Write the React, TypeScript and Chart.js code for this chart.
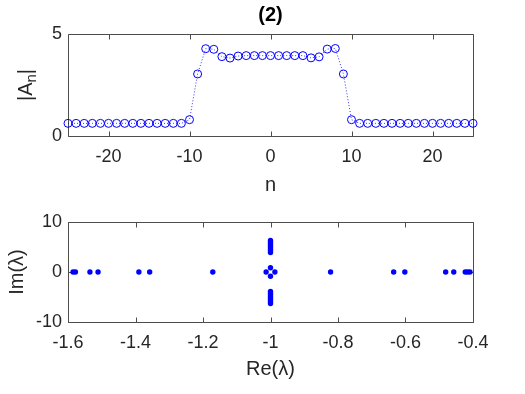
import React, { useEffect, useRef } from "react";
import { Chart, registerables } from "chart.js";

Chart.register(...registerables);

// ---------- data ----------
const nValues = [
  -25, -24, -23, -22, -21, -20, -19, -18, -17, -16, -15, -14, -13, -12, -11,
  -10, -9, -8, -7, -6, -5, -4, -3, -2, -1, 0, 1, 2, 3, 4, 5, 6, 7, 8, 9, 10,
  11, 12, 13, 14, 15, 16, 17, 18, 19, 20, 21, 22, 23, 24, 25,
];
const amplitude = [
  0.62, 0.62, 0.62, 0.62, 0.62, 0.62, 0.62, 0.62, 0.62, 0.62, 0.62, 0.62, 0.62, 0.62, 0.62,
  0.8, 3.04, 4.28, 4.25, 3.89, 3.82, 3.92, 3.94, 3.94, 3.94, 3.94, 3.94, 3.94, 3.94, 3.94,
  3.83, 3.88, 4.26, 4.29, 3.04, 0.8,
  0.62, 0.62, 0.62, 0.62, 0.62, 0.62, 0.62, 0.62, 0.62, 0.62, 0.62, 0.62, 0.62, 0.62, 0.62,
];
const topXTicks = [-20, -10, 0, 10, 20];
const topXTickLabels = ["-20", "-10", "0", "10", "20"];
const topYTicks = [0, 5];
const topYTickLabels = ["0", "5"];

// eigenvalues on the real axis
const eigReal = [
  -1.585, -1.578, -1.535, -1.511, -1.39, -1.358, -1.171, -0.822, -0.635, -0.602,
  -0.481, -0.457, -0.423, -0.416, -0.409, -1.013, -0.987,
];
const eigRealIm = [0, 0, 0, 0, 0, 0, 0, 0, 0, 0, 0, 0, 0, 0, 0, 0, 0];
// eigenvalues on the line Re = -1
const eigColRe = [
  -1, -1, -1, -1, -1, -1, -1, -1, -1, -1, -1, -1, -1, -1, -1, -1, -1, -1, -1, -1,
];
const eigColIm = [
  0.85, 3.9, 4.2, 4.5, 4.8, 5.1, 5.4, 5.7, 6.0, 6.3,
  -0.85, -3.9, -4.2, -4.5, -4.8, -5.1, -5.4, -5.7, -6.0, -6.3,
];
const botXTicks = [-1.6, -1.4, -1.2, -1, -0.8, -0.6, -0.4];
const botXTickLabels = ["-1.6", "-1.4", "-1.2", "-1", "-0.8", "-0.6", "-0.4"];
const botYTicks = [-10, 0, 10];
const botYTickLabels = ["-10", "0", "10"];

const topTitle = "(2)";
const topXTitle = "n";
const topYTitleMain = "A";
const topYTitleSub = "n";
const botXTitle = "Re(λ)";
const botYTitle = "Im(λ)";

// ---------- styles ----------
const FONT = "'Liberation Sans', Arial, Helvetica, sans-serif";
const TEXT = "#262626";
const AXIS = "#4d4d4d";
const BLUE = "#0000ff";

const framePlugin = {
  id: "frame",
  beforeDatasetsDraw(chart: any) {
    const { ctx, chartArea: a, scales } = chart;
    const L = Math.round(a.left) + 0.5;
    const R = Math.round(a.right) + 0.5;
    const T = Math.round(a.top) + 0.5;
    const B = Math.round(a.bottom) + 0.5;
    const tl = 5;
    ctx.save();
    ctx.strokeStyle = AXIS;
    ctx.lineWidth = 1;
    ctx.beginPath();
    ctx.rect(L, T, R - L, B - T);
    scales.x.ticks.forEach((t: any) => {
      const x = Math.round(scales.x.getPixelForValue(t.value)) + 0.5;
      ctx.moveTo(x, B);
      ctx.lineTo(x, B - tl);
      ctx.moveTo(x, T);
      ctx.lineTo(x, T + tl);
    });
    scales.y.ticks.forEach((t: any) => {
      const y = Math.round(scales.y.getPixelForValue(t.value)) + 0.5;
      ctx.moveTo(L, y);
      ctx.lineTo(L + tl, y);
      ctx.moveTo(R, y);
      ctx.lineTo(R - tl, y);
    });
    ctx.stroke();
    ctx.restore();
  },
};

// y-axis title |A_n| with a real subscript
const subscriptTitlePlugin = {
  id: "subTitle",
  afterDraw(chart: any) {
    const { ctx, chartArea: a } = chart;
    const cy = (a.top + a.bottom) / 2;
    const cx = 26;
    const main = `20px ${FONT}`;
    const sub = `15px ${FONT}`;
    ctx.save();
    ctx.translate(cx, cy);
    ctx.rotate(-Math.PI / 2);
    ctx.fillStyle = TEXT;
    ctx.textBaseline = "middle";
    ctx.textAlign = "left";
    ctx.font = main;
    const w1 = ctx.measureText("|" + topYTitleMain).width;
    const w3 = ctx.measureText("|").width;
    ctx.font = sub;
    const w2 = ctx.measureText(topYTitleSub).width;
    let x = -(w1 + w2 + w3) / 2;
    ctx.font = main;
    ctx.fillText("|" + topYTitleMain, x, 0);
    x += w1;
    ctx.font = sub;
    ctx.fillText(topYTitleSub, x, 6);
    x += w2;
    ctx.font = main;
    ctx.fillText("|", x, 0);
    ctx.restore();
  },
};

function axis(
  min: number,
  max: number,
  ticks: number[],
  labels: string[],
  title: string,
  titlePad: any,
  size: number,
  horizontal: boolean
) {
  return {
    type: "linear",
    min,
    max,
    afterBuildTicks: (s: any) => {
      s.ticks = ticks.map((value) => ({ value }));
    },
    afterFit: (s: any) => {
      if (horizontal) s.height = size;
      else s.width = size;
    },
    ticks: {
      autoSkip: false,
      maxRotation: 0,
      minRotation: 0,
      padding: horizontal ? 10 : 6,
      color: TEXT,
      font: { family: FONT, size: 18 },
      callback: (_v: any, i: number) => labels[i],
    },
    grid: { display: false, drawTicks: false },
    border: { display: false },
    title: {
      display: title !== "",
      text: title,
      color: TEXT,
      font: { family: FONT, size: 20 },
      padding: titlePad,
    },
  };
}

function TopChart() {
  const ref = useRef<HTMLCanvasElement>(null);
  useEffect(() => {
    const chart = new Chart(ref.current as HTMLCanvasElement, {
      type: "line",
      data: {
        datasets: [
          {
            data: nValues.map((n, i) => ({ x: n, y: amplitude[i] })),
            borderColor: "rgba(0,0,255,0.8)",
            borderWidth: 1,
            borderDash: [1, 2],
            pointStyle: "circle",
            pointRadius: 4,
            pointBorderWidth: 1,
            pointBorderColor: BLUE,
            pointBackgroundColor: "rgba(0,0,0,0)",
            fill: false,
            tension: 0,
            clip: false as any,
          },
        ],
      },
      options: {
        animation: false,
        responsive: false,
        layout: { padding: { left: 0, right: 52, top: 0, bottom: 0 } },
        plugins: {
          legend: { display: false },
          tooltip: { enabled: false },
          title: {
            display: true,
            text: topTitle,
            fullSize: false,
            color: "#000",
            font: { family: FONT, size: 20, weight: "bold" },
            padding: { top: 3, bottom: 7 },
          },
        },
        scales: {
          x: axis(-25, 25, topXTicks, topXTickLabels, topXTitle, { top: 0, bottom: 3 }, 64, true),
          y: axis(0, 5, topYTicks, topYTickLabels, "", { top: 0, bottom: 0 }, 68, false),
        } as any,
      },
      plugins: [framePlugin, subscriptTitlePlugin],
    });
    return () => chart.destroy();
  }, []);
  return (
    <canvas
      ref={ref}
      width={525}
      height={200}
      style={{ position: "absolute", left: 0, top: 0, width: 525, height: 200 }}
    />
  );
}

function BottomChart() {
  const ref = useRef<HTMLCanvasElement>(null);
  useEffect(() => {
    const pts = [
      ...eigReal.map((x, i) => ({ x, y: eigRealIm[i] })),
      ...eigColRe.map((x, i) => ({ x, y: eigColIm[i] })),
    ];
    const chart = new Chart(ref.current as HTMLCanvasElement, {
      type: "scatter",
      data: {
        datasets: [
          {
            data: pts,
            pointStyle: "circle",
            pointRadius: 2.7,
            pointBorderWidth: 0,
            pointBackgroundColor: BLUE,
            pointBorderColor: BLUE,
            clip: false as any,
          },
        ],
      },
      options: {
        animation: false,
        responsive: false,
        layout: { padding: { left: 0, right: 52, top: 22, bottom: 0 } },
        plugins: {
          legend: { display: false },
          tooltip: { enabled: false },
        },
        scales: {
          x: axis(-1.6, -0.4, botXTicks, botXTickLabels, botXTitle, { top: 0, bottom: 13 }, 72, true),
          y: axis(-10, 10, botYTicks, botYTickLabels, botYTitle, { top: 5, bottom: 0 }, 68, false),
        } as any,
      },
      plugins: [framePlugin],
    });
    return () => chart.destroy();
  }, []);
  return (
    <canvas
      ref={ref}
      width={525}
      height={194}
      style={{ position: "absolute", left: 0, top: 200, width: 525, height: 194 }}
    />
  );
}

export default function App() {
  return (
    <div
      style={{
        position: "absolute",
        left: 0,
        top: 0,
        width: 525,
        height: 394,
        background: "#fff",
        overflow: "hidden",
      }}
    >
      <TopChart />
      <BottomChart />
    </div>
  );
}
